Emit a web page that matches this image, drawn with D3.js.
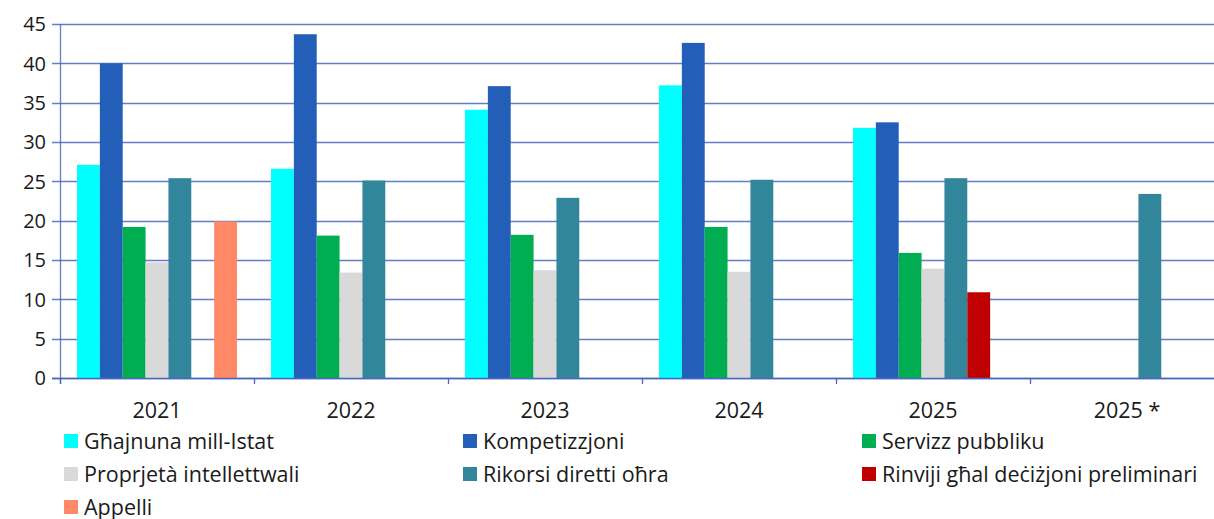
<!DOCTYPE html>
<html><head><meta charset="utf-8">
<script src="https://cdn.jsdelivr.net/npm/d3@7"></script>
<style>body{margin:0;background:#fff;}svg{display:block;font-family:"Open Sans",sans-serif;}</style>
</head><body><svg id="c" width="1214" height="519"></svg>
<script>
const categories = ["2021","2022","2023","2024","2025","2025 *"];
const seriesNames = ["Għajnuna mill-Istat","Kompetizzjoni","Servizz pubbliku","Proprjetà intellettwali","Rikorsi diretti oħra","Rinviji għal deċiżjoni preliminari","Appelli"];
const seriesColors = ["#00ffff","#235eb8","#00ad50","#d9d9d9","#31869b","#c00000","#ff8866"];
const ghajnuna = [27.1, 26.6, 34.1, 37.2, 31.8, null];
const kompetizzjoni = [40.0, 43.7, 37.1, 42.6, 32.5, null];
const servizz = [19.2, 18.1, 18.2, 19.2, 15.9, null];
const proprjeta = [14.7, 13.4, 13.7, 13.5, 13.9, null];
const rikorsi = [25.4, 25.1, 22.9, 25.2, 25.4, 23.4];
const rinviji = [null, null, null, null, 10.9, null];
const appelli = [19.9, null, null, null, null, null];
const yTicks = [0,5,10,15,20,25,30,35,40,45];
const seriesValues = [ghajnuna, kompetizzjoni, servizz, proprjeta, rikorsi, rinviji, appelli];

const svg = d3.select("#c");
const plotLeft = 60, bandW = 194, plotTop = 24, plotBottom = 378;
const x = d3.scaleBand().domain(categories).range([plotLeft, plotLeft + bandW*categories.length]).paddingInner(0).paddingOuter(0);
const xs = d3.scaleBand().domain(d3.range(seriesNames.length)).range([17, bandW-17]);
const y = d3.scaleLinear().domain([0,45]).range([plotBottom, plotTop]);
const gridColor = "#4a68bb";

// gridlines
svg.append("g").selectAll("line").data(yTicks).join("line")
  .attr("x1", 52).attr("x2", 1214)
  .attr("y1", d=>Math.round(y(d))+0.5).attr("y2", d=>Math.round(y(d))+0.5)
  .attr("stroke", gridColor).attr("stroke-width", 1.3).attr("opacity", 0.85);

// y axis line
svg.append("line").attr("x1", plotLeft+0.5).attr("x2", plotLeft+0.5).attr("y1", plotTop).attr("y2", plotBottom+6)
  .attr("stroke", gridColor).attr("stroke-width", 1.3).attr("opacity", 0.85);

// y labels
svg.append("g").selectAll("text").data(yTicks).join("text")
  .attr("x", 46).attr("y", d=>y(d)).attr("dy","0.36em")
  .attr("text-anchor","end").attr("font-size", 20).attr("fill","#1a1a1a").text(d=>d);

// bars
const groups = svg.append("g").selectAll("g").data(categories).join("g")
  .attr("transform", c=>`translate(${x(c)},0)`);
groups.selectAll("rect").data((c,ci)=>seriesValues.map((s,si)=>({si, v:s[ci]})).filter(d=>d.v!=null))
  .join("rect")
  .attr("x", d=>xs(d.si)).attr("width", xs.bandwidth())
  .attr("y", d=>y(d.v)).attr("height", d=>plotBottom - y(d.v))
  .attr("fill", d=>seriesColors[d.si]);

// x axis
svg.append("line").attr("x1", 52).attr("x2", 1214).attr("y1", plotBottom+0.5).attr("y2", plotBottom+0.5)
  .attr("stroke", gridColor).attr("stroke-width", 1.5);
svg.append("g").selectAll("line").data(d3.range(categories.length+1)).join("line")
  .attr("x1", i=>plotLeft+i*bandW+0.5).attr("x2", i=>plotLeft+i*bandW+0.5)
  .attr("y1", plotBottom).attr("y2", plotBottom+6)
  .attr("stroke", gridColor).attr("stroke-width", 1.3);
svg.append("g").selectAll("text").data(categories).join("text")
  .attr("x", c=>x(c)+bandW/2).attr("y", 418).attr("text-anchor","middle")
  .attr("font-size", 21.5).attr("fill","#1a1a1a").text(c=>c);

// legend
const legX = [64, 463, 862], legY = [441, 474, 507];
const leg = svg.append("g").selectAll("g").data(seriesNames).join("g")
  .attr("transform", (d,i)=>`translate(${legX[i%3]},${legY[Math.floor(i/3)]})`);
leg.append("rect").attr("x",0).attr("y",-7).attr("width",14).attr("height",14)
  .attr("fill",(d,i)=>seriesColors[i]);
leg.append("text").attr("x",20).attr("y",0).attr("dy","0.36em")
  .attr("font-size",21.5).attr("fill","#1a1a1a").text(d=>d);
</script></body></html>
